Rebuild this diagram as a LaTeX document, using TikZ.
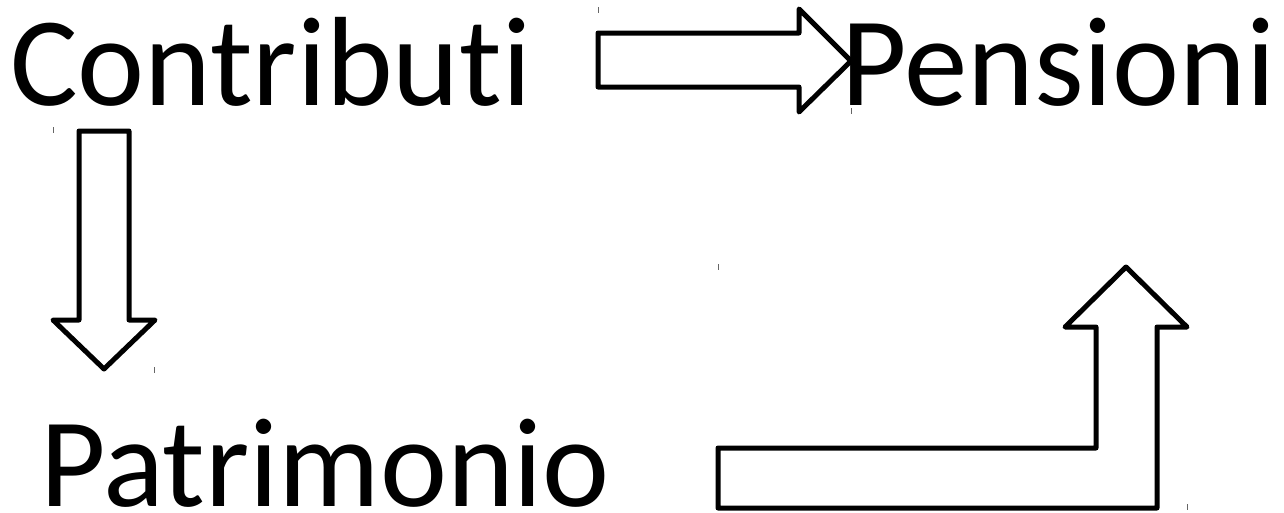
\documentclass[tikz,border=0pt]{standalone}
\usepackage{fontspec}
\setmainfont[Ligatures=NoCommon]{Carlito}
\begin{document}
\begin{tikzpicture}[x=1pt, y=-1pt,
  lbl/.style={inner sep=0pt, text depth=0pt, anchor=base west, font=\fontsize{127}{150}\selectfont},
  blockarrow/.style={draw=black, line width=5pt, line join=round, fill=white},
  corner/.style={draw=black!60, line width=0.8pt}]
  \useasboundingbox (0,0) rectangle (1284,512);

  % labels
  \node[lbl] (contrib) at (10,105) {Contributi};
  \node[lbl] (pens) at (841,105) {Pensioni};
  \node[lbl] (patr) at (40,506) {Patrimonio};

  % right arrow: Contributi -> Pensioni
  \draw[blockarrow] (598,33) -- (799,33) -- (799,9) -- (851,61) -- (799,112)
    -- (799,87) -- (598,87) -- cycle;
  % down arrow: Contributi -> Patrimonio
  \draw[blockarrow] (79,131) -- (129,131) -- (129,320) -- (155,320) -- (104,369)
    -- (53,320) -- (79,320) -- cycle;
  % bent arrow: Patrimonio -> Pensioni
  \draw[blockarrow] (718,448) -- (1096,448) -- (1096,327) -- (1065,327) -- (1126,267)
    -- (1187,327) -- (1157,327) -- (1157,508) -- (718,508) -- cycle;

  % small corner marks of the arrow frames
  \foreach \x/\y in {598/10, 851/111, 53/130, 154/370, 718/267, 1187/507}
    \draw[corner] (\x,\y-3) -- (\x,\y+3);
\end{tikzpicture}
\end{document}
